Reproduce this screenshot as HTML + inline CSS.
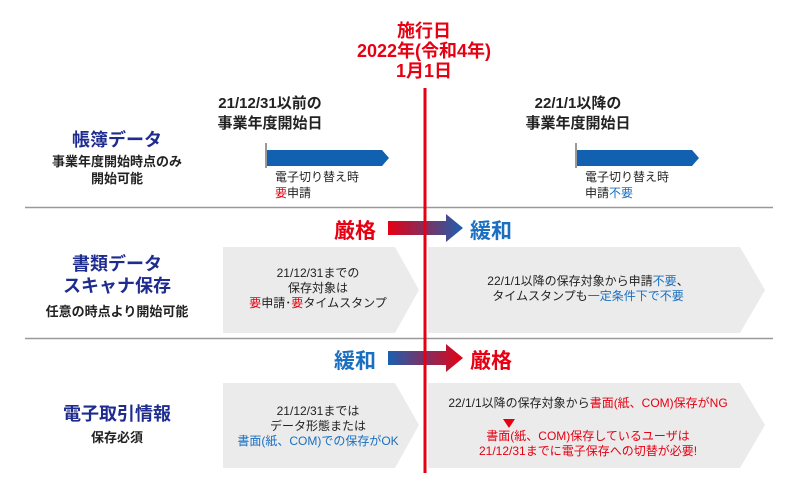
<!DOCTYPE html>
<html><head><meta charset="utf-8"><style>
body{margin:0;width:800px;height:500px;background:#fff;position:relative;overflow:hidden;font-family:"Liberation Sans","Noto Sans CJK JP",sans-serif;color:#222}
.a{position:absolute;white-space:nowrap}
.c{transform:translateX(-50%);text-align:center}
.r{color:#e60012}.b{color:#1a6fc0}.nv{color:#1f2c8f}
</style></head><body>
<svg class="a" style="left:0;top:0" width="800" height="500">
<defs>
<linearGradient id="g1" x1="0" x2="1"><stop offset="0" stop-color="#e60012"/><stop offset="1" stop-color="#1a5fb0"/></linearGradient>
<linearGradient id="g2" x1="0" x2="1"><stop offset="0" stop-color="#1a5fb0"/><stop offset="1" stop-color="#e60012"/></linearGradient>
</defs>
<line x1="25" y1="207.5" x2="773" y2="207.5" stroke="#999" stroke-width="1.5"/>
<line x1="25" y1="338.5" x2="773" y2="338.5" stroke="#999" stroke-width="1.5"/>
<line x1="266" y1="143" x2="266" y2="168" stroke="#333"/>
<polygon points="267,150 382,150 389,158 382,166 267,166" fill="#1260b0"/>
<line x1="576" y1="143" x2="576" y2="168" stroke="#333"/>
<polygon points="577,150 692,150 699,158 692,166 577,166" fill="#1260b0"/>
<polygon points="223,247 395,247 419,290 395,333 223,333" fill="#ebebeb"/>
<polygon points="428,247 740,247 765,290 740,333 428,333" fill="#ebebeb"/>
<polygon points="223,383 395,383 419,425 395,468 223,468" fill="#ebebeb"/>
<polygon points="428,383 740,383 765,425 740,468 428,468" fill="#ebebeb"/>
<polygon points="388,221 446,221 446,214 463,228 446,242 446,235 388,235" fill="url(#g1)"/>
<polygon points="388,351 446,351 446,344 463,358 446,372 446,365 388,365" fill="url(#g2)"/>
<line x1="425" y1="88" x2="425" y2="473" stroke="#e60012" stroke-width="3"/>
<polygon points="503,419 515,419 509,428" fill="#e60012"/>
</svg>
<div class="a c r" style="left:424px;top:21px;font-size:18px;font-weight:bold;line-height:20px">施行日<br>2022年(令和4年)<br>1月1日</div>
<div class="a c" style="left:270px;top:94px;font-size:15px;font-weight:bold;line-height:20px">21/12/31以前の<br>事業年度開始日</div>
<div class="a c" style="left:578px;top:94px;font-size:15px;font-weight:bold;line-height:20px">22/1/1以降の<br>事業年度開始日</div>
<div class="a c nv" style="left:117px;top:126px;font-size:18px;font-weight:bold">帳簿データ</div>
<div class="a c" style="left:117px;top:153px;font-size:13px;font-weight:bold;line-height:17px">事業年度開始時点のみ<br>開始可能</div>
<div class="a" style="left:275px;top:169px;font-size:12px;line-height:16px">電子切り替え時<br><span class="r">要</span>申請</div>
<div class="a" style="left:585px;top:169px;font-size:12px;line-height:16px">電子切り替え時<br>申請<span class="b">不要</span></div>
<div class="a r" style="left:334px;top:215px;font-size:21px;font-weight:bold">厳格</div>
<div class="a b" style="left:470px;top:215px;font-size:21px;font-weight:bold">緩和</div>
<div class="a c nv" style="left:117px;top:253px;font-size:18px;font-weight:bold;line-height:22px">書類データ<br>スキャナ保存</div>
<div class="a c" style="left:117px;top:301px;font-size:13px;font-weight:bold">任意の時点より開始可能</div>
<div class="a c" style="left:318px;top:266px;font-size:12px;line-height:15px">21/12/31までの<br>保存対象は<br><span class="r">要</span>申請･<span class="r">要</span>タイムスタンプ</div>
<div class="a c" style="left:588px;top:274px;font-size:12px;line-height:15px">22/1/1以降の保存対象から申請<span class="b">不要</span>、<br>タイムスタンプも<span class="b">一定条件下で不要</span></div>
<div class="a b" style="left:334px;top:345px;font-size:21px;font-weight:bold">緩和</div>
<div class="a r" style="left:470px;top:345px;font-size:21px;font-weight:bold">厳格</div>
<div class="a c nv" style="left:117px;top:400px;font-size:18px;font-weight:bold">電子取引情報</div>
<div class="a c" style="left:117px;top:427px;font-size:13px;font-weight:bold">保存必須</div>
<div class="a c" style="left:318px;top:404px;font-size:12px;line-height:15px">21/12/31までは<br>データ形態または<br><span class="b">書面(紙、COM)での保存がOK</span></div>
<div class="a c" style="left:588px;top:396px;font-size:12px;line-height:15px">22/1/1以降の保存対象から<span class="r">書面(紙、COM)保存がNG</span></div>
<div class="a c r" style="left:588px;top:429px;font-size:12px;line-height:15px">書面(紙、COM)保存しているユーザは<br>21/12/31までに電子保存への切替が必要!</div>
</body></html>
